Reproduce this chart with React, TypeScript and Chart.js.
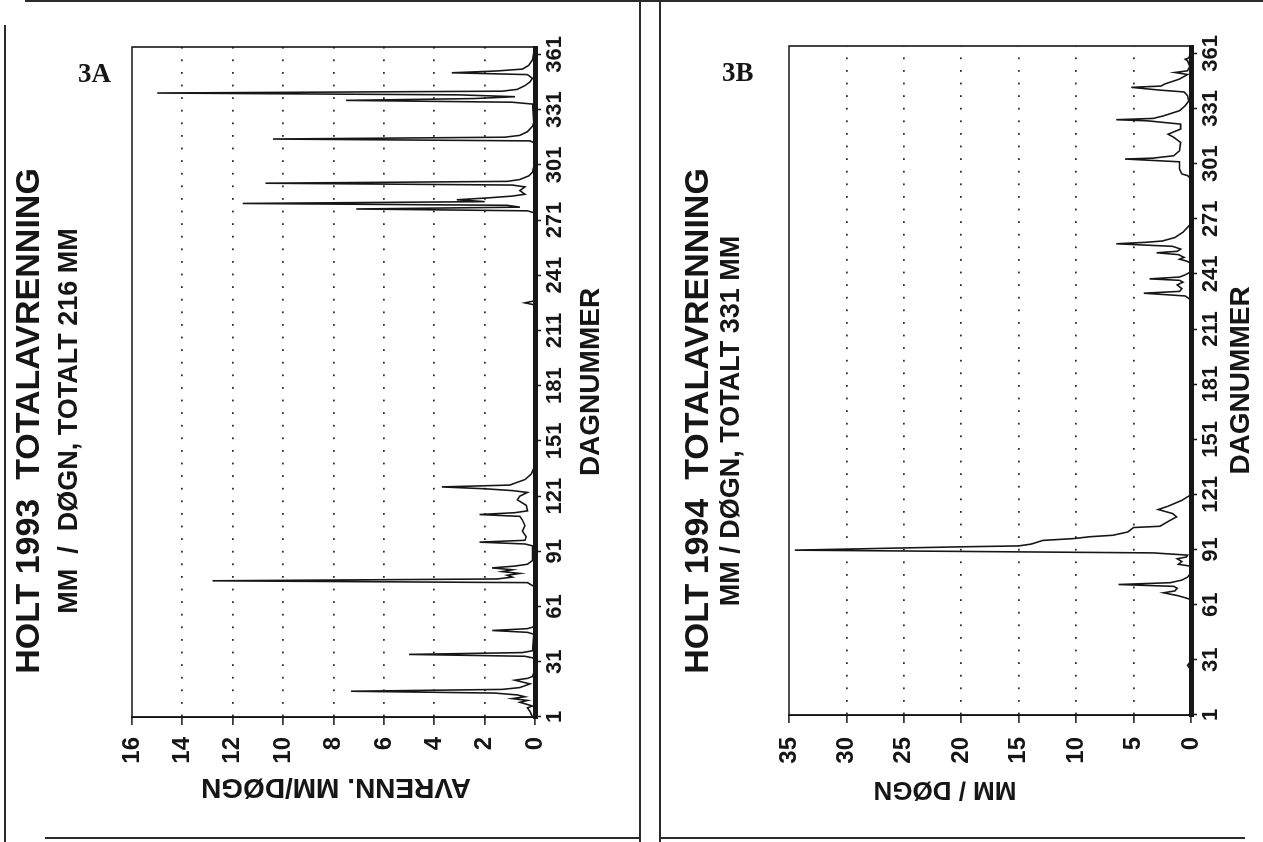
import React, { useEffect, useRef } from "react";
import { Chart, registerables } from "chart.js";

Chart.register(...registerables);

// ---------- data ----------
const dayTicks = [1, 31, 61, 91, 121, 151, 181, 211, 241, 271, 301, 331, 361];

const days1993 = [
  1, 4, 6, 7, 9, 10, 11, 12, 13, 14, 15, 16, 17, 18, 19, 20, 21, 22, 23, 25,
  33, 34, 35, 36, 37, 46, 47, 48, 49, 50,
  72, 74, 75, 76, 77, 78, 79, 80, 81, 82, 83, 84, 86,
  94, 95, 96, 97, 99, 102, 105, 108, 110, 111, 112, 113, 116, 119, 121, 123,
  124, 125, 126, 127, 128, 130, 133, 136,
  225, 226, 227,
  275, 276, 277, 278, 279, 280, 281, 282, 283, 284, 285, 287, 289, 290, 291,
  292, 293, 295, 297, 300,
  313, 314, 315, 316, 317, 319, 322, 324,
  334, 335, 336, 337, 338, 339, 340, 341, 342, 344, 346, 348, 350, 351, 352,
  353, 355, 358, 362, 365,
];
const flow1993 = [
  0.1, 0.2, 0.3, 0.1, 0.6, 0.3, 0.9, 0.4, 0.7, 1.6, 7.3, 1.3, 0.6, 0.4, 0.2, 0.5, 0.8, 0.3, 0.1, 0.05,
  0.05, 0.4, 5.0, 0.5, 0.1, 0.05, 0.3, 1.7, 0.3, 0.05,
  0.05, 0.3, 12.8, 1.5, 0.9, 1.1, 0.6, 1.3, 0.9, 1.7, 0.8, 0.3, 0.1,
  0.1, 0.4, 2.2, 0.4, 0.35, 0.5, 0.4, 0.5, 0.6, 2.2, 0.8, 0.3, 0.35, 0.7, 0.6, 0.3,
  0.9, 2.0, 3.7, 1.0, 0.8, 0.4, 0.15, 0.05,
  0.05, 0.4, 0.05,
  0.05, 0.3, 7.1, 0.6, 1.1, 11.6, 2.0, 3.1, 1.9, 0.9, 0.4, 0.6, 0.4, 0.9, 10.7,
  1.1, 0.6, 0.25, 0.1, 0.05,
  0.05, 0.2, 10.4, 1.2, 0.6, 0.3, 0.1, 0.05,
  0.1, 0.9, 7.5, 2.4, 0.8, 3.0, 15.0, 1.3, 0.7, 0.4, 0.2, 0.1, 0.3, 3.3, 1.5,
  0.5, 0.25, 0.1, 0.05, 0.05,
];

const days1994 = [
  1, 26, 28, 30, 63, 64, 65, 66, 67.5, 68.5, 70, 71, 72, 73, 74.4, 76, 78,
  82, 83, 84.5, 86, 87, 88, 89.2, 90.7, 91.6, 92.5, 93, 94, 96, 97, 98, 98.8,
  100.6, 103, 103.7, 107, 108.8, 110.6, 112.8, 114.6, 117.8, 120.5, 123,
  227, 229, 230.5, 231.5, 233, 235, 236.5, 237.5, 238.3, 239.3, 240.5, 242,
  247, 248, 249, 250, 251.5, 252.5, 253.3, 254.5, 256, 257.4, 258.2, 258.9,
  260.8, 263.7, 268,
  293, 294.5, 295.4, 298, 302, 303.5, 304, 305.3, 308, 312.5, 315.3, 317,
  319.8, 322.5, 324.3, 324.9, 325.6, 327, 329.8, 332.5, 335, 338, 340, 341,
  342.5, 343.2, 344.3, 347, 349.5, 350.6, 351.5, 354, 357, 357.8, 358.5, 361, 365,
];
const flow1994 = [
  0.05, 0.05, 0.3, 0.05, 0.05, 0.1, 0.6, 1.2, 2.4, 1.4, 1.2, 1.5, 6.3, 1.8, 0.8, 0.3, 0.05,
  0.05, 1.1, 0.8, 1.2, 0.4, 0.3, 3.3, 34.5, 27.4, 20.1, 15.0, 13.9, 12.9, 10.2, 8.8, 6.8,
  5.5, 5.0, 2.7, 1.8, 1.25, 1.6, 2.85, 2.0, 0.8, 0.1, 0.05,
  0.05, 0.5, 4.1, 1.0, 0.8, 1.2, 0.7, 1.0, 3.6, 1.0, 0.5, 0.05,
  0.05, 0.4, 1.0, 0.6, 1.1, 3.0, 1.2, 0.9, 1.6, 6.5, 3.9, 2.5,
  1.4, 0.7, 0.05,
  0.05, 0.3, 0.8, 1.0, 1.0, 5.75, 3.3, 1.5, 1.0, 0.9, 1.5, 2.0,
  0.9, 0.9, 3.8, 6.5, 3.3, 2.4, 1.0, 0.5, 0.2, 0.3, 0.6, 2.7,
  5.2, 2.6, 2.3, 1.0, 0.3, 1.4, 0.3, 0.1, 0.3, 0.5, 0.2, 0.05, 0.05,
];

// ---------- styling ----------
const SANS = "'Liberation Sans', Arial, sans-serif";
const INK = "#161616";

type PanelCfg = {
  pageLeft: number;
  canvasH: number;
  title: string;
  subtitle: string;
  yTitle: string;
  days: number[];
  values: number[];
  yMax: number;
  yStep: number;
  titlePadTop: number;
  subPadTop: number;
  subPadBottom: number;
  padRight: number;
  xAxisH: number;
  xTitlePadBottom: number;
  yAxisW: number;
  yTickPad: number;
  yTitleSize: number;
  yTitleU: number; // canvas x of the value-axis title centre
  yTitleV: number; // canvas y of the value-axis title centre
};

const framePlugin = {
  id: "frame",
  afterDatasetsDraw(chart: any) {
    const { ctx, chartArea: a } = chart;
    ctx.save();
    ctx.strokeStyle = INK;
    ctx.lineWidth = 1.6;
    ctx.beginPath();
    ctx.moveTo(a.left, a.bottom);
    ctx.lineTo(a.left, a.top);
    ctx.lineTo(a.right, a.top);
    ctx.lineTo(a.right, a.bottom);
    ctx.stroke();
    ctx.restore();
  },
};

const valueTitlePlugin = {
  id: "valueTitle",
  afterDraw(chart: any, _args: any, opts: any) {
    const { ctx } = chart;
    ctx.save();
    ctx.translate(opts.u, opts.v);
    ctx.rotate(-Math.PI / 2);
    ctx.textAlign = "center";
    ctx.textBaseline = "middle";
    ctx.fillStyle = INK;
    ctx.font = `bold ${opts.size}px ${SANS}`;
    ctx.fillText(opts.text, 0, 0);
    ctx.restore();
  },
};

function Panel({ cfg }: { cfg: PanelCfg }) {
  const ref = useRef<HTMLCanvasElement | null>(null);
  useEffect(() => {
    if (!ref.current) return;
    const chart = new Chart(ref.current, {
      type: "line",
      data: {
        datasets: [
          {
            data: cfg.days.map((d, i) => ({ x: d, y: cfg.values[i] })),
            borderColor: INK,
            borderWidth: 1.6,
            pointRadius: 0,
            tension: 0,
            fill: false,
          },
        ],
      },
      options: {
        animation: false,
        responsive: false,
        maintainAspectRatio: false,
        devicePixelRatio: 1,
        layout: { padding: 0 },
        plugins: {
          legend: { display: false },
          tooltip: { enabled: false },
          title: {
            display: true,
            text: cfg.title,
            color: INK,
            font: { family: SANS, size: 34, weight: "bold", lineHeight: 1 },
            padding: { top: cfg.titlePadTop, bottom: 0 },
          },
          subtitle: {
            display: true,
            text: cfg.subtitle,
            color: INK,
            font: { family: SANS, size: 27, weight: "bold", lineHeight: 1 },
            padding: { top: cfg.subPadTop, bottom: cfg.subPadBottom },
          },
          valueTitle: {
            text: cfg.yTitle,
            size: cfg.yTitleSize,
            u: cfg.yTitleU,
            v: cfg.yTitleV,
          },
        },
        scales: {
          x: {
            type: "linear",
            min: 1,
            max: 365,
            afterBuildTicks: (s: any) => {
              s.ticks = dayTicks.map((v) => ({ value: v }));
            },
            afterFit: (s: any) => {
              s.height = cfg.xAxisH;
              s.paddingLeft = 0;
              s.paddingRight = cfg.padRight;
            },
            ticks: {
              autoSkip: false,
              maxRotation: 0,
              minRotation: 0,
              padding: 1,
              color: INK,
              font: { family: SANS, size: 22, weight: "bold" },
              callback: (v: any) => String(v),
            },
            grid: {
              drawOnChartArea: false,
              drawTicks: true,
              tickLength: 6,
              tickWidth: 1.5,
              tickColor: INK,
            },
            border: { display: true, width: 5, color: INK },
            title: {
              display: true,
              text: "DAGNUMMER",
              color: INK,
              font: { family: SANS, size: 28, weight: "bold", lineHeight: 1 },
              padding: { top: 0, bottom: cfg.xTitlePadBottom },
            },
          },
          y: {
            type: "linear",
            min: 0,
            max: cfg.yMax,
            afterFit: (s: any) => {
              s.width = cfg.yAxisW;
            },
            ticks: {
              stepSize: cfg.yStep,
              padding: cfg.yTickPad,
              color: INK,
              font: { family: SANS, size: 24, weight: "bold" },
            },
            grid: {
              drawTicks: true,
              tickLength: 8,
              tickWidth: 1.5,
              tickColor: INK,
              lineWidth: 1.8,
              color: (c: any) =>
                c.tick && (c.tick.value === 0 || c.tick.value === cfg.yMax)
                  ? "rgba(0,0,0,0)"
                  : "#2a2a2a",
            },
            border: { display: true, width: 1.6, color: INK, dash: [1.8, 10.8] },
            title: { display: false },
          },
        },
      } as any,
      plugins: [framePlugin, valueTitlePlugin],
    });
    return () => chart.destroy();
  }, [cfg]);

  return (
    <canvas
      ref={ref}
      width={842}
      height={cfg.canvasH}
      style={{
        position: "absolute",
        left: cfg.pageLeft,
        top: 842,
        width: 842,
        height: cfg.canvasH,
        transformOrigin: "0 0",
        transform: "rotate(-90deg)",
      }}
    />
  );
}

const panelA: PanelCfg = {
  pageLeft: 0,
  canvasH: 640,
  title: "HOLT 1993  TOTALAVRENNING",
  subtitle: "MM  /  DØGN, TOTALT 216 MM",
  yTitle: "AVRENN. MM/DØGN",
  days: days1993,
  values: flow1993,
  yMax: 16,
  yStep: 2,
  titlePadTop: 13,
  subPadTop: 9.5,
  subPadBottom: 48.5,
  padRight: 47,
  xAxisH: 105,
  xTitlePadBottom: 35,
  yAxisW: 125,
  yTickPad: 12,
  yTitleSize: 28,
  yTitleU: 55,
  yTitleV: 336,
};

const panelB: PanelCfg = {
  pageLeft: 645,
  canvasH: 618,
  title: "HOLT 1994  TOTALAVRENNING",
  subtitle: "MM / DØGN, TOTALT 331 MM",
  yTitle: "MM / DØGN",
  days: days1994,
  values: flow1994,
  yMax: 35,
  yStep: 5,
  titlePadTop: 37,
  subPadTop: 2.5,
  subPadBottom: 43.5,
  padRight: 46,
  xAxisH: 72,
  xTitlePadBottom: 8,
  yAxisW: 127,
  yTickPad: 14,
  yTitleSize: 26,
  yTitleU: 53,
  yTitleV: 300,
};

const line = (l: number, t: number, w: number, h: number): React.CSSProperties => ({
  position: "absolute",
  left: l,
  top: t,
  width: w,
  height: h,
  background: "#2b2b2b",
});

export default function App() {
  return (
    <div
      style={{
        position: "absolute",
        left: 0,
        top: 0,
        width: 1263,
        height: 842,
        overflow: "hidden",
        background: "#ffffff",
      }}
    >
      <div style={line(25, 0, 1238, 2)} />
      <div style={line(4, 25, 2, 817)} />
      <div style={line(639, 0, 2, 842)} />
      <div style={line(45, 837, 595, 2)} />
      <div style={line(659, 0, 2, 842)} />
      <div style={line(660, 837, 585, 2)} />
      <Panel cfg={panelA} />
      <Panel cfg={panelB} />
      <div
        style={{
          position: "absolute",
          left: 78,
          top: 58,
          font: "bold 27px 'Liberation Serif', 'Times New Roman', serif",
          color: INK,
        }}
      >
        3A
      </div>
      <div
        style={{
          position: "absolute",
          left: 722,
          top: 57,
          font: "bold 27px 'Liberation Serif', 'Times New Roman', serif",
          color: INK,
        }}
      >
        3B
      </div>
    </div>
  );
}
